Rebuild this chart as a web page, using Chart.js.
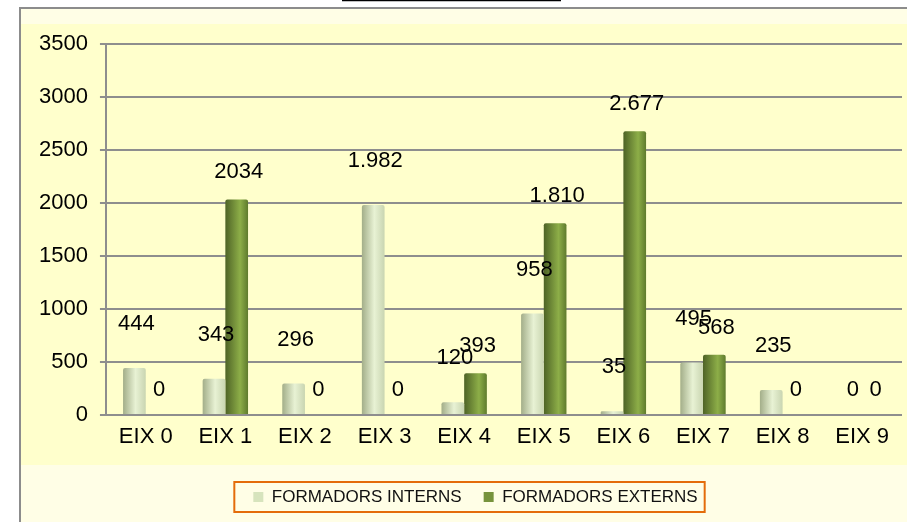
<!DOCTYPE html>
<html>
<head>
<meta charset="utf-8">
<script src="https://cdn.jsdelivr.net/npm/chart.js@4.4.1/dist/chart.umd.min.js"></script>
<style>
  html, body { margin: 0; padding: 0; background: #ffffff; }
  #wrap { width: 907px; height: 522px; }
</style>
</head>
<body>
<div id="wrap"><canvas id="barChart" width="907" height="522"></canvas></div>
<script>
// chart data
const categories = ['EIX 0', 'EIX 1', 'EIX 2', 'EIX 3', 'EIX 4', 'EIX 5', 'EIX 6', 'EIX 7', 'EIX 8', 'EIX 9'];
const interns = [444, 343, 296, 1982, 120, 958, 35, 495, 235, 0];
const externs = [0, 2034, 0, 0, 393, 1810, 2677, 568, 0, 0];
const internLabels = ['444', '343', '296', '1.982', '120', '958', '35', '495', '235', '0'];
const externLabels = ['0', '2034', '0', '0', '393', '1.810', '2.677', '568', '0', '0'];
const yTicks = [0, 500, 1000, 1500, 2000, 2500, 3000, 3500];

const FONT = "'Liberation Sans', Arial, sans-serif";
const CAT_PCT = 0.57;
const LEGEND_SHIFT = 11;

// cylinder-ish shading across each bar
function cylinder(ctx, stops, flat) {
    const chart = ctx.chart;
    const xs = chart.scales && chart.scales.x;
    if (!xs || !xs.width) return flat;
    const center = xs.getPixelForValue(ctx.dataIndex);
    const barW = xs.width / categories.length * CAT_PCT / 2;
    const left = ctx.datasetIndex === 0 ? center - barW : center;
    const g = chart.ctx.createLinearGradient(left, 0, left + barW, 0);
    stops.forEach(function(s) { g.addColorStop(s[0], s[1]); });
    return g;
}

// panel background, frame and the clipped title line
const panelBg = {
    id: 'panelBg',
    afterUpdate(chart) {
        if (chart.legend) chart.legend._shifted = false;
    },
    beforeDraw(chart) {
        // nudge the legend a bit right, like the original
        const lg = chart.legend;
        if (lg && !lg._shifted) {
            lg.left += LEGEND_SHIFT;
            lg.right += LEGEND_SHIFT;
            (lg.legendHitBoxes || []).forEach(function(h) { h.left += LEGEND_SHIFT; });
            lg._shifted = true;
        }
        const c = chart.ctx;
        c.save();
        c.fillStyle = '#ffffff';
        c.fillRect(0, 0, chart.width, chart.height);
        c.fillStyle = '#FFFEE6';
        c.fillRect(20, 8, chart.width - 20, chart.height - 8);
        c.fillStyle = '#FFFFCC';
        c.fillRect(21, 24, chart.width - 21, 441);
        c.strokeStyle = '#8C8C8C';
        c.lineWidth = 2;
        c.beginPath();
        c.moveTo(20, chart.height);
        c.lineTo(20, 8);
        c.lineTo(chart.width, 8);
        c.stroke();
        c.strokeStyle = '#000000';
        c.lineWidth = 1.5;
        c.beginPath();
        c.moveTo(342, 0.5);
        c.lineTo(561, 0.5);
        c.stroke();
        c.restore();
    }
};

// value labels above the bars
const valueLabels = {
    id: 'valueLabels',
    afterDatasetsDraw(chart) {
        const c = chart.ctx;
        const sets = [internLabels, externLabels];
        const lift = [44, 27];
        c.save();
        c.font = '22px ' + FONT;
        c.fillStyle = '#000000';
        c.textAlign = 'center';
        c.textBaseline = 'middle';
        sets.forEach(function(texts, di) {
            const ds = chart.data.datasets[di].data;
            const meta = chart.getDatasetMeta(di);
            meta.data.forEach(function(bar, i) {
                const up = ds[i] === 0 ? 25 : lift[di];
                c.fillText(texts[i], bar.x + 2, bar.y - up);
            });
        });
        c.restore();
    }
};

// orange frame round the legend
const legendFrame = {
    id: 'legendFrame',
    afterDraw(chart) {
        const boxes = chart.legend && chart.legend.legendHitBoxes;
        if (!boxes || !boxes.length) return;
        let l = Infinity, r = -Infinity, t = Infinity, b = -Infinity;
        boxes.forEach(function(h) {
            l = Math.min(l, h.left); r = Math.max(r, h.left + h.width);
            t = Math.min(t, h.top); b = Math.max(b, h.top + h.height);
        });
        const c = chart.ctx;
        c.save();
        c.strokeStyle = '#E46C0A';
        c.lineWidth = 2;
        const mid = (t + b) / 2;
        c.strokeRect(l - 19, mid - 15, (r - l) + 26, 30);
        c.restore();
    }
};

const ctx = document.getElementById('barChart').getContext('2d');
const barChart = new Chart(ctx, {
    type: 'bar',
    data: {
        labels: categories,
        datasets: [{
            label: 'FORMADORS INTERNS',
            data: interns,
            backgroundColor: function(c) {
                return cylinder(c, [[0, '#A3AE89'], [0.55, '#E8F2D4'], [1, '#C9D5B1']], '#D7E4BD');
            },
            borderWidth: 0,
            borderRadius: 2,
            borderSkipped: 'bottom'
        }, {
            label: 'FORMADORS EXTERNS',
            data: externs,
            backgroundColor: function(c) {
                return cylinder(c, [[0, '#4E6326'], [0.65, '#8DAE48'], [1, '#5F7B2D']], '#77933C');
            },
            borderWidth: 0,
            borderRadius: 2,
            borderSkipped: 'bottom'
        }]
    },
    options: {
        responsive: false,
        animation: false,
        layout: {
            padding: { left: 27, right: 5, top: 44, bottom: 6.5 }
        },
        datasets: {
            bar: { barPercentage: 1, categoryPercentage: CAT_PCT }
        },
        plugins: {
            legend: {
                position: 'bottom',
                title: {
                    display: true,
                    text: '',
                    font: { size: 1 },
                    padding: { top: 0, bottom: 6.3 }
                },
                labels: {
                    font: { family: FONT, size: 17 },
                    color: '#111111',
                    boxWidth: 10,
                    boxHeight: 10,
                    padding: 22,
                    generateLabels: function(chart) {
                        const fills = ['#D7E4BD', '#77933C'];
                        return chart.data.datasets.map(function(ds, i) {
                            return { text: ds.label, fillStyle: fills[i], strokeStyle: fills[i], lineWidth: 0, datasetIndex: i, fontColor: '#111111' };
                        });
                    }
                }
            },
            tooltip: { enabled: false }
        },
        scales: {
            x: {
                grid: { display: false, drawTicks: false },
                border: { display: false },
                ticks: {
                    font: { family: FONT, size: 22 },
                    color: '#000000',
                    padding: 8.8
                }
            },
            y: {
                min: 0,
                max: 3500,
                afterBuildTicks: function(axis) {
                    axis.ticks = yTicks.map(function(v) { return { value: v }; });
                },
                grid: {
                    color: '#8E8E8E',
                    lineWidth: 2,
                    tickLength: 6,
                    tickColor: '#8E8E8E'
                },
                border: { color: '#8E8E8E', width: 2 },
                ticks: {
                    font: { family: FONT, size: 22 },
                    color: '#000000',
                    padding: 12,
                    callback: function(value) { return String(value); }
                }
            }
        }
    },
    plugins: [panelBg, valueLabels, legendFrame]
});
</script>
</body>
</html>
